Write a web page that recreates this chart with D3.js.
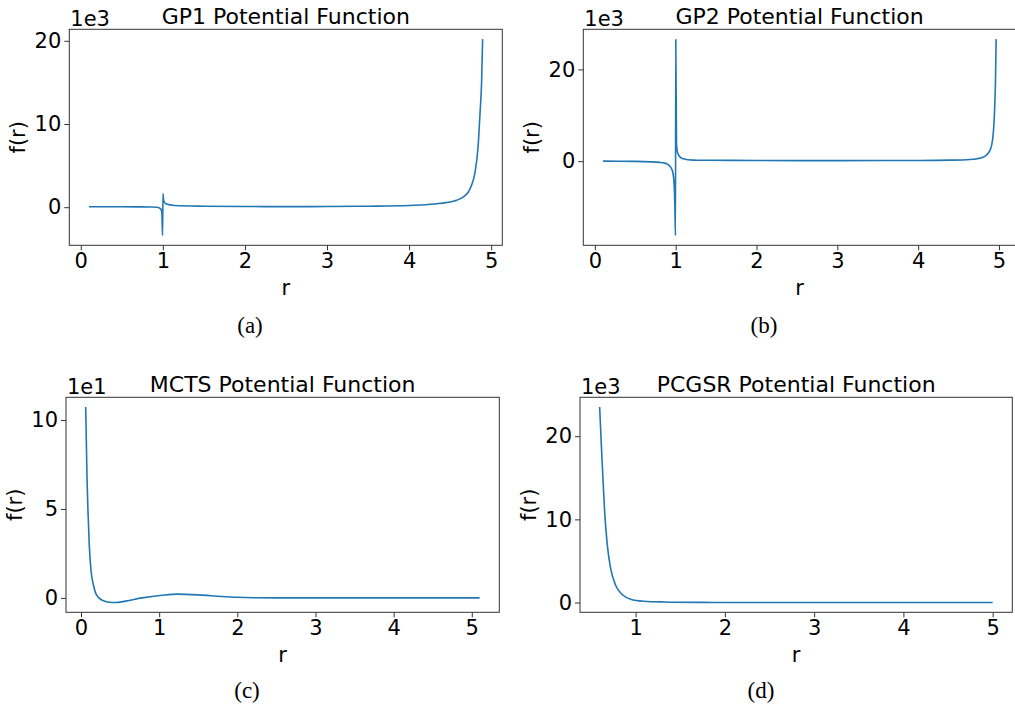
<!DOCTYPE html>
<html>
<head>
<meta charset="utf-8">
<script src="https://cdn.jsdelivr.net/npm/d3@7"></script>
<style>
  body { margin: 0; background: #fff; }
  svg { display: block; }
  .tick text { font-family: "DejaVu Sans", sans-serif; font-size: 21px; fill: #000; }
</style>
</head>
<body>
<div id="chart"></div>
<script>
// ============ DATA (in axis units) ============
// (a) GP1, f in units of 1e3
const gp1R = [0.1, 0.3, 0.5, 0.7, 0.85, 0.93, 0.974, 0.988, 0.996, 1.002, 1.01, 1.035, 1.14, 1.5, 2, 2.5, 3, 3.5, 4, 4.14, 4.34, 4.45, 4.55, 4.62, 4.67, 4.72, 4.76, 4.8, 4.84, 4.864, 4.884, 4.896];
const gp1F = [0.05, 0.05, 0.05, 0.04, 0.02, 0, -0.2, -0.6, -3.4, 1.6, 0.8, 0.4, 0.2, 0.12, 0.08, 0.07, 0.08, 0.12, 0.2, 0.27, 0.42, 0.55, 0.75, 1.0, 1.3, 1.8, 2.6, 4.0, 7.2, 11.2, 15.2, 20.2];

// (b) GP2, f in units of 1e3
const gp2R = [0.1, 0.3, 0.5, 0.69, 0.8, 0.853, 0.915, 0.957, 0.977, 0.989, 0.997, 1.001, 1.01, 1.026, 1.08, 1.22, 1.43, 2, 3, 4, 4.4, 4.64, 4.81, 4.89, 4.925, 4.944, 4.957, 4.965];
const gp2F = [0, -0.02, -0.05, -0.15, -0.27, -0.37, -0.87, -1.96, -4.1, -9.2, -16.2, 26.5, 3.8, 1.67, 0.58, 0.22, 0.2, 0.15, 0.12, 0.15, 0.22, 0.37, 0.93, 2.4, 5.3, 10.4, 17.6, 26.6];

// (c) MCTS, f in units of 1e1
const mctsR = [0.06, 0.077, 0.09, 0.106, 0.13, 0.16, 0.2, 0.27, 0.4, 0.44, 0.57, 0.78, 1.04, 1.23, 1.5, 1.8, 2.0, 2.2, 2.5, 3, 4, 5.1];
const mctsF = [10.73, 6.7, 4.8, 2.95, 1.46, 0.71, 0.15, -0.13, -0.26, -0.26, -0.18, 0, 0.15, 0.21, 0.17, 0.08, 0.035, 0.01, 0, 0, 0, 0];

// (d) PCGSR, f in units of 1e3
const pcgsrR = [0.597, 0.616, 0.634, 0.653, 0.683, 0.72, 0.776, 0.85, 0.944, 1.09, 1.32, 1.73, 2.5, 3.5, 5];
const pcgsrF = [23.5, 18.9, 14.9, 10.9, 6.9, 4.1, 2.08, 0.96, 0.4, 0.16, 0.07, 0.02, 0, 0, 0];

const titles = ["GP1 Potential Function", "GP2 Potential Function", "MCTS Potential Function", "PCGSR Potential Function"];
const offsetLabels = ["1e3", "1e3", "1e1", "1e3"];
const captions = ["(a)", "(b)", "(c)", "(d)"];
const xTicks = [[0, 1, 2, 3, 4, 5], [0, 1, 2, 3, 4, 5], [0, 1, 2, 3, 4, 5], [1, 2, 3, 4, 5]];
const yTicks = [[0, 10, 20], [0, 20], [0, 5, 10], [0, 10, 20]];

// ============ LAYOUT ============
const W = 1015, H = 706;
// axes boxes in page pixels, plus caption centre x / baseline
const boxes = [
    {left: 69.3, right: 502.3, top: 29.3, bottom: 245.3, capX: 250, capY: 333},
    {left: 583.3, right: 1015.8, top: 29.3, bottom: 245.3, capX: 764, capY: 333},
    {left: 66, right: 499.3, top: 397.3, bottom: 612.3, capX: 247, capY: 698},
    {left: 580, right: 1012.3, top: 397.3, bottom: 612.3, capX: 761, capY: 698}
];

const series = [[gp1R, gp1F], [gp2R, gp2F], [mctsR, mctsF], [pcgsrR, pcgsrF]];

const svg = d3.select("#chart")
    .append("svg")
    .attr("width", W)
    .attr("height", H);

// matplotlib style 5% data margins
function padded(ext) {
    const m = (ext[1] - ext[0]) * 0.05;
    return [ext[0] - m, ext[1] + m];
}

series.forEach(([rs, fs], i) => {
    const b = boxes[i];
    const width = b.right - b.left;
    const height = b.bottom - b.top;
    const data = rs.map((r, k) => ({r: r, f: fs[k]}));

    const x = d3.scaleLinear().domain(padded(d3.extent(rs))).range([0, width]);
    const y = d3.scaleLinear().domain(padded(d3.extent(fs))).range([height, 0]);

    const g = svg.append("g").attr("transform", `translate(${b.left},${b.top})`);

    // clip so the curve stays inside the axes
    g.append("clipPath").attr("id", "clip" + i)
        .append("rect").attr("width", width).attr("height", height);

    // x axis
    const xa = g.append("g")
        .attr("transform", `translate(0,${height})`)
        .call(d3.axisBottom(x).tickValues(xTicks[i]).tickFormat(d3.format("d"))
            .tickSize(5).tickSizeOuter(0).tickPadding(3));
    xa.select(".domain").remove();
    xa.selectAll(".tick line").attr("stroke", "#333");

    // y axis
    const ya = g.append("g")
        .call(d3.axisLeft(y).tickValues(yTicks[i]).tickFormat(d3.format("d"))
            .tickSize(5).tickSizeOuter(0).tickPadding(3));
    ya.select(".domain").remove();
    ya.selectAll(".tick line").attr("stroke", "#333");

    // the curve
    const line = d3.line()
        .x(d => x(d.r))
        .y(d => y(d.f))
        .curve(d3.curveMonotoneX);

    g.append("path")
        .datum(data)
        .attr("clip-path", `url(#clip${i})`)
        .attr("fill", "none")
        .attr("stroke", "#1f77b4")
        .attr("stroke-width", 1.6)
        .attr("stroke-linejoin", "round")
        .attr("d", line);

    // frame
    g.append("rect")
        .attr("width", width)
        .attr("height", height)
        .attr("fill", "none")
        .attr("stroke", "#333")
        .attr("stroke-width", 1);

    // title
    g.append("text")
        .attr("x", width / 2)
        .attr("y", -5.5)
        .attr("text-anchor", "middle")
        .style("font-family", "DejaVu Sans, sans-serif")
        .style("font-size", "22px")
        .text(titles[i]);

    // offset text (1e3 etc.)
    g.append("text")
        .attr("x", 1)
        .attr("y", -3)
        .style("font-family", "DejaVu Sans, sans-serif")
        .style("font-size", "21px")
        .text(offsetLabels[i]);

    // axis labels
    g.append("text")
        .attr("x", width / 2)
        .attr("y", height + 49.5)
        .attr("text-anchor", "middle")
        .style("font-family", "DejaVu Sans, sans-serif")
        .style("font-size", "21px")
        .text("r");

    g.append("text")
        .attr("transform", "rotate(-90)")
        .attr("x", -height / 2)
        .attr("y", -44)
        .attr("text-anchor", "middle")
        .style("font-family", "DejaVu Sans, sans-serif")
        .style("font-size", "21px")
        .text("f(r)");

    // caption under each subplot
    svg.append("text")
        .attr("x", b.capX)
        .attr("y", b.capY)
        .attr("text-anchor", "middle")
        .style("font-family", "Liberation Serif, serif")
        .style("font-size", "23px")
        .text(captions[i]);
});
</script>
</body>
</html>
